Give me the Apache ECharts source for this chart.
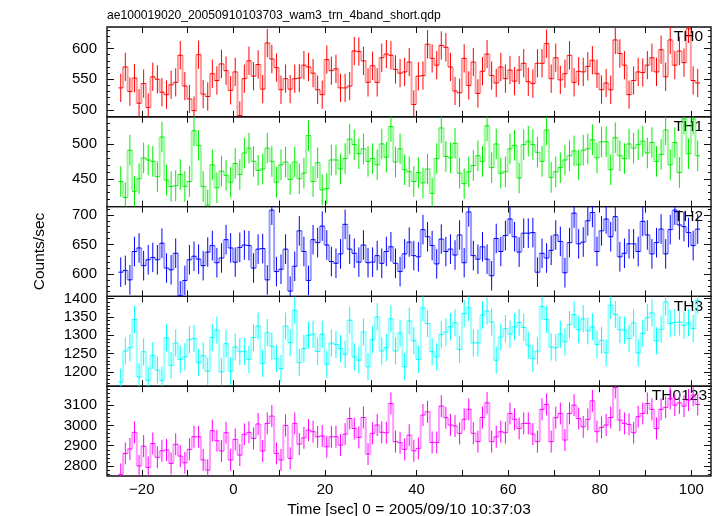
<!DOCTYPE html>
<html><head><meta charset="utf-8">
<script src="https://cdn.jsdelivr.net/npm/echarts@6/dist/echarts.min.js"></script>
<style>html,body{margin:0;padding:0;background:#fff}#c{width:717px;height:516px}</style>
</head><body><div id="c"></div>
<script>
// time bins (sec): first bin starts at binStart, each binWidth long
const binStart = -25.1, binWidth = 1.0;

const th0 = [536,570,530,552,511,543,504,554,550,529,
525,541,545,589,539,518,499,590,526,522,
559,548,575,564,532,562,491,551,580,555,
574,534,609,583,569,533,551,534,551,552,
573,570,560,533,525,582,564,567,536,536,
539,596,595,580,545,572,545,585,591,589,
566,560,562,578,509,555,556,607,584,573,
605,602,570,531,528,584,540,578,527,563,
591,556,544,570,551,565,547,565,576,546,
543,576,576,608,551,585,549,559,589,545,
563,562,571,581,559,533,544,533,614,592,
573,525,548,562,561,573,585,562,598,554,
614,573,596,577,632,548,544];

const th1 = [446,423,491,432,450,480,477,475,453,510,
448,439,440,456,439,446,519,498,439,412,
470,437,461,455,445,472,456,487,494,475,
462,464,494,475,445,470,474,449,474,450,
458,512,446,473,434,436,477,477,464,479,
507,499,486,493,475,479,470,500,481,525,
474,493,463,460,446,459,444,464,429,479,
523,482,480,501,458,443,460,469,483,475,
526,466,500,458,460,493,498,451,499,504,
499,488,475,520,452,460,466,477,483,490,
470,491,493,506,480,503,503,463,509,483,
479,500,494,499,504,487,502,475,485,520,
470,502,459,536,486,536,483];

const th2 = [603,606,590,638,644,614,624,628,624,652,
610,607,635,563,589,624,630,625,614,637,
648,619,627,658,644,620,645,649,648,610,
642,643,590,708,604,608,642,571,613,673,
638,589,658,653,681,649,621,618,634,684,
642,635,620,649,619,620,631,618,638,646,
618,604,634,654,631,629,675,663,648,617,
659,638,642,632,666,619,705,631,625,646,
625,597,660,638,665,693,663,637,669,669,
670,603,635,627,640,666,655,602,653,703,
651,654,690,704,638,673,693,663,697,629,
635,651,651,638,689,666,634,653,676,634,
675,708,683,680,670,648,676];

const th3 = [1172,1257,1266,1343,1186,1255,1177,1245,1205,1177,
1293,1218,1279,1234,1241,1288,1291,1225,1244,1202,
1294,1314,1200,1277,1202,1268,1255,1256,1234,1294,
1325,1223,1307,1270,1236,1209,1325,1280,1368,1225,
1264,1300,1303,1256,1303,1221,1279,1275,1264,1248,
1341,1241,1232,1309,1214,1288,1350,1257,1266,1345,
1257,1306,1214,1339,1285,1234,1375,1332,1255,1241,
1302,1309,1323,1334,1261,1359,1375,1279,1279,1355,
1366,1336,1232,1295,1318,1303,1323,1335,1321,1273,
1236,1257,1379,1343,1268,1266,1303,1282,1329,1356,
1315,1345,1312,1323,1275,1286,1252,1382,1357,1315,
1314,1291,1334,1252,1305,1348,1361,1285,1316,1391,
1332,1335,1336,1327,1334,1318,1395];

const th0123 = [2759,2862,2884,2966,2800,2898,2793,2911,2843,2875,
2879,2813,2907,2849,2816,2882,2944,2944,2830,2780,
2974,2925,2874,2964,2830,2931,2854,2956,2966,2936,
3007,2874,3010,3046,2862,2830,3000,2838,3010,2908,
2939,2977,2969,2944,2948,2895,2944,2944,2903,2957,
3034,2985,2941,3039,2859,2961,3002,2966,2964,3108,
2920,2915,2882,2952,2875,2887,3051,3067,2916,2916,
3095,3038,3002,2997,2961,3030,3079,2961,2920,3039,
3111,2920,2944,2969,2964,3059,3030,2985,3010,3010,
2957,2920,3079,3103,2920,3038,3059,2928,3059,3100,
3034,2993,3030,3121,2969,2990,3002,3039,3187,3026,
3010,3005,2964,3043,3059,3108,3079,2985,3079,3089,
3133,3100,3111,3095,3125,3149,3103];

// per-panel error half-widths (counts/sec)
const errors = [23, 22, 25, 37, 54];

const panelNames = ['TH0', 'TH1', 'TH2', 'TH3', 'TH0123'];
const panelData = [th0, th1, th2, th3, th0123];
const colors = ['#ff0000', '#00ee00', '#0000ff', '#00ffff', '#ff00ff'];

const yMins = [489, 410, 562, 1161, 2751];
const yMaxs = [635, 539, 714, 1406, 3193];
const yMajorTicks = [[500, 550, 600], [450, 500], [600, 650, 700], [1200, 1250, 1300, 1350, 1400], [2800, 2900, 3000, 3100]];
const yMinorStep = [10, 10, 10, 10, 20];

const xMin = -27.6, xMax = 104.3;
const xTicks = [-20, -10, 0, 10, 20, 30, 40, 50, 60, 70, 80, 90, 100];
const xLabels = [-20, 0, 20, 40, 60, 80, 100];

const titleText = 'ae100019020_20050910103703_wam3_trn_4band_short.qdp';
const xTitle = 'Time [sec] 0 = 2005/09/10 10:37:03';
const yTitle = 'Counts/sec';

const FONT = 'Liberation Sans';
const gridLeft = 107, gridRight = 6, gridTop0 = 27, panelH = 89.8;
const labelRight = [14, 14, 14, 14, 10];

const chart = echarts.init(document.getElementById('c'), null, {renderer: 'canvas'});

const grids = [], xAxes = [], yAxes = [], series = [], graphics = [];
const plain = v => String(v).replace('-', '\u2212');
const noLine = {show: false, onZero: false};

for (let p = 0; p < 5; p++) {
  const top = gridTop0 + panelH * p;
  grids.push({left: gridLeft, right: gridRight, top: top, height: panelH,
    show: true, borderColor: '#111', borderWidth: 1.4, backgroundColor: 'transparent',
    containLabel: false, outerBoundsMode: 'none'});
  const last = p === 4;
  xAxes.push({type: 'value', gridIndex: p, position: 'bottom', min: xMin, max: xMax,
    axisLine: noLine, splitLine: {show: false},
    axisTick: {show: true, inside: true, length: 6, customValues: xTicks, lineStyle: {color: '#111', width: 1}},
    axisLabel: {show: last, customValues: xLabels, formatter: plain, color: '#000', fontFamily: FONT, fontSize: 15, margin: 6},
    name: last ? xTitle : '', nameLocation: 'middle', nameGap: 26,
    nameTextStyle: {color: '#000', fontFamily: FONT, fontSize: 15.5}});
  xAxes.push({type: 'value', gridIndex: p, position: 'top', min: xMin, max: xMax,
    axisLine: noLine, splitLine: {show: false},
    axisTick: {show: true, inside: true, length: 6, customValues: xTicks, lineStyle: {color: '#111', width: 1}},
    axisLabel: {show: false}});
  const minors = [];
  for (let v = Math.ceil(yMins[p] / yMinorStep[p]) * yMinorStep[p]; v <= yMaxs[p]; v += yMinorStep[p]) minors.push(v);
  const base = {type: 'value', gridIndex: p, min: yMins[p], max: yMaxs[p], axisLine: noLine, splitLine: {show: false}};
  yAxes.push(Object.assign({}, base, {position: 'left',
    axisTick: {show: true, inside: true, length: 7, customValues: yMajorTicks[p], lineStyle: {color: '#111', width: 1}},
    axisLabel: {show: true, customValues: yMajorTicks[p], formatter: plain, color: '#000', fontFamily: FONT, fontSize: 15, margin: 10}}));
  yAxes.push(Object.assign({}, base, {position: 'left',
    axisTick: {show: true, inside: true, length: 3, customValues: minors, lineStyle: {color: '#111', width: 1}},
    axisLabel: {show: false}}));
  yAxes.push(Object.assign({}, base, {position: 'right',
    axisTick: {show: true, inside: true, length: 7, customValues: yMajorTicks[p], lineStyle: {color: '#111', width: 1}},
    axisLabel: {show: false}}));
  yAxes.push(Object.assign({}, base, {position: 'right',
    axisTick: {show: true, inside: true, length: 3, customValues: minors, lineStyle: {color: '#111', width: 1}},
    axisLabel: {show: false}}));

  const vals = panelData[p], err = errors[p], color = colors[p];
  series.push({
    type: 'custom', xAxisIndex: 2 * p, yAxisIndex: 4 * p, clip: true, silent: true,
    data: vals.map((v, i) => [binStart + (i + 0.5) * binWidth, v]),
    encode: {x: 0, y: 1},
    renderItem: function (params, api) {
      const i = params.dataIndex;
      const v = vals[i];
      const x0 = binStart + i * binWidth, x1 = x0 + binWidth, xc = x0 + binWidth / 2;
      const pL = api.coord([x0, v]), pR = api.coord([x1, v]);
      const ch = [];
      if (i > 0) {
        const pp = api.coord([x0, vals[i - 1]]);
        ch.push({type: 'line', shape: {x1: pL[0], y1: pp[1], x2: pL[0], y2: pL[1]},
          style: {stroke: color, lineWidth: 2, opacity: 0.4}});
      }
      const eT = api.coord([xc, v + err]), eB = api.coord([xc, v - err]);
      ch.push({type: 'line', shape: {x1: eT[0], y1: eT[1], x2: eB[0], y2: eB[1]},
        style: {stroke: color, lineWidth: 1}});
      ch.push({type: 'line', shape: {x1: pL[0], y1: pL[1], x2: pR[0], y2: pR[1]},
        style: {stroke: color, lineWidth: 1}});
      return {type: 'group', children: ch};
    }
  });

  graphics.push({type: 'text', right: labelRight[p], top: top + 2,
    style: {text: panelNames[p], fill: '#000', font: '15.5px "' + FONT + '"'}});
}

graphics.push({type: 'text', x: 40, y: gridTop0 + panelH * 2.5, rotation: Math.PI / 2,
  style: {text: yTitle, fill: '#000', font: '15.5px "' + FONT + '"', align: 'center', verticalAlign: 'middle'}});
// file-name title, slightly condensed like the original plot font
graphics.push({type: 'text', x: 107, y: 15, scaleX: 0.9,
  style: {text: titleText, fill: '#000', font: '13.5px "' + FONT + '"', align: 'left', verticalAlign: 'middle'}});

chart.setOption({
  backgroundColor: '#fff',
  animation: false,
  grid: grids, xAxis: xAxes, yAxis: yAxes, series: series, graphic: graphics
});
</script></body></html>
